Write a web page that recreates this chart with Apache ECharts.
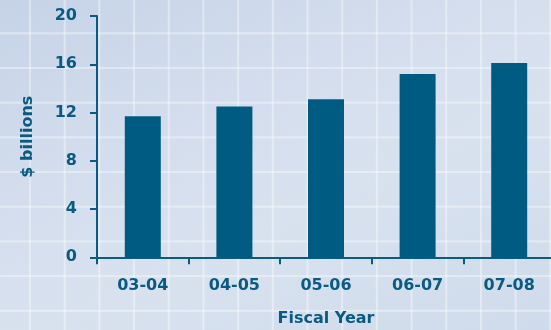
<!DOCTYPE html>
<html>
<head>
<meta charset="utf-8">
<script src="https://cdn.jsdelivr.net/npm/echarts@6/dist/echarts.min.js"></script>
<style>
  html, body { margin: 0; padding: 0; }
  #chart {
    width: 551px;
    height: 330px;
    background-color: #cfdbeb;
    background-image:
      linear-gradient(to right, rgba(255,255,255,0.38) 2px, transparent 2px),
      linear-gradient(to bottom, rgba(255,255,255,0.38) 2px, transparent 2px),
      linear-gradient(155deg, #c6d3e7 0%, #d3dded 35%, #d8e2ef 60%, #cfdbeb 100%);
    background-size: 34.7px 34.7px, 34.7px 34.7px, 100% 100%;
    background-position: -5.7px 0, 0 -2.4px, 0 0;
    background-repeat: repeat, repeat, no-repeat;
  }
</style>
</head>
<body>
<div id="chart"></div>
<script>
// Annual spending by fiscal year, in billions of dollars
const fiscalYears = ['03-04', '04-05', '05-06', '06-07', '07-08'];
const spending = [11.7, 12.5, 13.1, 15.2, 16.1];
const yTicks = { min: 0, max: 20, step: 4 };

const ink = '#0b5a81';
const barColor = '#005b82';
const font = 'DejaVu Sans';

const chart = echarts.init(document.getElementById('chart'), null, { renderer: 'canvas' });
chart.setOption({
  backgroundColor: 'transparent',
  animation: false,
  grid: { left: 97, right: -4, top: 16, bottom: 72.7, containLabel: false, outerBoundsMode: 'none' },
  xAxis: {
    type: 'category',
    data: fiscalYears,
    name: 'Fiscal Year',
    nameLocation: 'middle',
    nameGap: 54,
    nameTextStyle: { color: ink, fontFamily: font, fontWeight: 'bold', fontSize: 16, verticalAlign: 'top' },
    axisLine: { show: true, lineStyle: { color: ink, width: 2 } },
    axisTick: { show: true, alignWithLabel: false, length: 7, lineStyle: { color: ink, width: 2 } },
    axisLabel: { color: ink, fontFamily: font, fontWeight: 'bold', fontSize: 16, margin: 21 },
    splitLine: { show: false }
  },
  yAxis: {
    type: 'value',
    min: yTicks.min,
    max: yTicks.max,
    interval: yTicks.step,
    name: '$ billions',
    nameLocation: 'middle',
    nameGap: 61,
    nameRotate: 90,
    nameTextStyle: { color: ink, fontFamily: font, fontWeight: 'bold', fontSize: 16 },
    axisLine: { show: true, lineStyle: { color: ink, width: 2 } },
    axisTick: { show: true, length: 7, lineStyle: { color: ink, width: 2 } },
    axisLabel: { color: ink, fontFamily: font, fontWeight: 'bold', fontSize: 16, margin: 20 },
    splitLine: { show: false }
  },
  series: [{
    type: 'bar',
    data: spending,
    barWidth: 36,
    itemStyle: { color: barColor }
  }]
});
</script>
</body>
</html>
